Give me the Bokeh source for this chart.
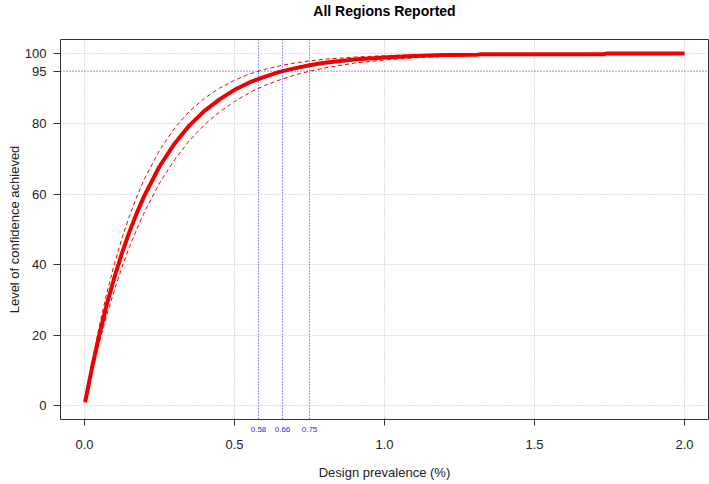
from bokeh.plotting import figure
from bokeh.models import Range1d, FixedTicker, Span, LinearAxis, NumeralTickFormatter, Title
from bokeh.embed import file_html
from bokeh.resources import INLINE

# ---- data ----
prevalence = [0.002, 0.025, 0.05, 0.075, 0.1, 0.125, 0.15, 0.175, 0.2, 0.25, 0.3, 0.35,
              0.4, 0.45, 0.5, 0.55, 0.6, 0.65, 0.7, 0.75, 0.8, 0.9, 1.0, 1.1, 1.2,
              1.31, 1.32, 1.73, 1.74, 2.0]
conf_mid = [0.9, 10.7, 20.3, 28.9, 36.5, 43.3, 49.4, 54.8, 59.7, 67.9, 74.4, 79.6,
            83.7, 87.0, 89.7, 91.8, 93.4, 94.8, 95.8, 96.7, 97.4, 98.3, 98.9, 99.3, 99.6,
            99.7, 99.8, 99.8, 100.0, 100.0]
conf_upper = [1.0, 12.1, 22.8, 32.1, 40.3, 47.6, 53.9, 59.5, 64.4, 72.5, 78.8, 83.6,
              87.3, 90.2, 92.4, 94.2, 95.5, 96.5, 97.3, 97.9, 98.4, 99.0, 99.4, 99.7, 99.8,
              99.9, 99.9, 99.9, 100.0, 100.0]
conf_lower = [0.8, 9.5, 18.1, 25.9, 32.9, 39.3, 45.1, 50.3, 55.0, 63.2, 69.8, 75.3,
              79.8, 83.4, 86.4, 88.9, 90.9, 92.5, 93.9, 95.0, 95.9, 97.3, 98.2, 98.8, 99.2,
              99.5, 99.6, 99.8, 100.0, 100.0]
crit_prev = [0.58, 0.66, 0.75]
crit_labels = ["0.58", "0.66", "0.75"]
target_conf = 95
x_ticks = [0.0, 0.5, 1.0, 1.5, 2.0]
y_ticks = [0, 20, 40, 60, 80, 95, 100]
y_grid = [0, 20, 40, 60, 80, 100]

FONT = "Liberation Sans"
BLUE = "#2a2aee"
RED = "#ee0000"

p = figure(width=709, height=484,
           x_range=Range1d(-0.08, 2.08), y_range=Range1d(-4, 104),
           output_backend="svg", toolbar_location=None,
           x_axis_location=None,
           title="All Regions Reported",
           min_border_left=60, min_border_right=1, min_border_top=39, min_border_bottom=65)

p.title.align = "center"
p.title.text_font = FONT
p.title.text_font_size = "14px"
p.title.text_font_style = "bold"
p.title.text_color = "black"
p.title.standoff = 0

# empty spacer between the title and the frame
p.add_layout(Title(text=" ", text_font_size="1px", standoff=18), "above")

p.outline_line_color = "#333333"
p.outline_line_width = 1
p.outline_line_alpha = 1.0

# blue labels for the critical prevalences, directly under the frame
crit_axis = LinearAxis(ticker=FixedTicker(ticks=crit_prev),
                       major_label_overrides={v: t for v, t in zip(crit_prev, crit_labels)})
crit_axis.axis_line_color = None
crit_axis.major_tick_line_color = None
crit_axis.minor_tick_line_color = None
crit_axis.major_tick_out = 0
crit_axis.major_tick_in = 0
crit_axis.major_label_standoff = 7
crit_axis.major_label_text_font = FONT
crit_axis.major_label_text_font_size = "8px"
crit_axis.major_label_text_color = BLUE
p.add_layout(crit_axis, "below")

# main x axis (ticks reach back up to the frame)
xaxis = LinearAxis(ticker=FixedTicker(ticks=x_ticks),
                   formatter=NumeralTickFormatter(format="0.0"),
                   axis_label="Design prevalence (%)")
xaxis.major_tick_in = 16
xaxis.major_tick_out = -9
xaxis.major_label_standoff = 5
xaxis.axis_label_standoff = 13
p.add_layout(xaxis, "below")

p.yaxis.ticker = FixedTicker(ticks=y_ticks)
p.yaxis.major_label_orientation = "horizontal"
p.yaxis.major_label_standoff = 7
p.yaxis.axis_label = "Level of confidence achieved"
p.yaxis.axis_label_standoff = 0
p.yaxis.major_tick_out = 7

for ax in (xaxis, p.yaxis[0]):
    ax.axis_line_color = None
    ax.minor_tick_line_color = None
    ax.major_tick_line_color = "#333333"
    ax.major_label_text_font = FONT
    ax.major_label_text_font_size = "13px"
    ax.major_label_text_color = "#222222"
    ax.axis_label_text_font = FONT
    ax.axis_label_text_font_size = "13px"
    ax.axis_label_text_font_style = "normal"
    ax.axis_label_text_color = "#222222"
p.yaxis.major_tick_in = 0

p.xgrid.ticker = FixedTicker(ticks=x_ticks)
p.ygrid.ticker = FixedTicker(ticks=y_grid)
for g in (p.xgrid[0], p.ygrid[0]):
    g.grid_line_color = "#bdbdbd"
    g.grid_line_dash = "1 2"
    g.grid_line_width = 1

for v in crit_prev:
    p.add_layout(Span(location=v, dimension="height", line_color=BLUE,
                      line_width=1, line_dash="1 2"))
p.add_layout(Span(location=target_conf, dimension="width", line_color=BLUE,
                  line_width=1, line_dash="1 2"))

p.line(prevalence, conf_mid, line_color=RED, line_width=4)
p.line(prevalence, conf_upper, line_color=RED, line_width=1, line_dash="4 3")
p.line(prevalence, conf_lower, line_color=RED, line_width=1, line_dash="4 3")

p.background_fill_color = "white"
p.border_fill_color = "white"

open("out.html", "w").write(file_html(p, INLINE))
